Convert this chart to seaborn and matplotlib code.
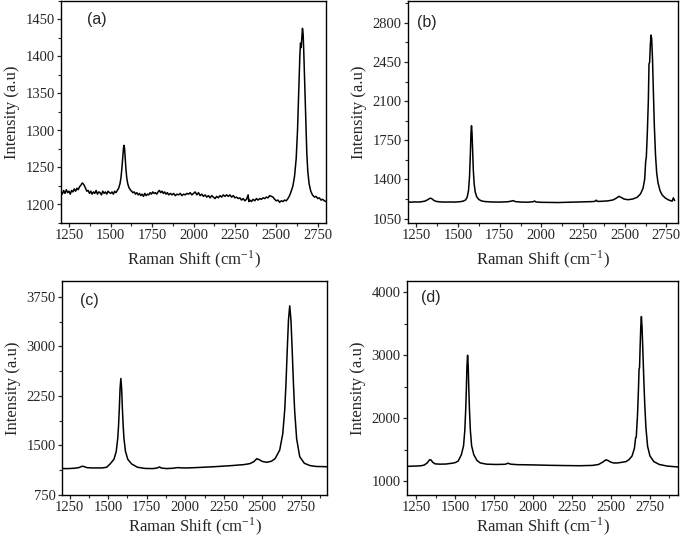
import matplotlib
matplotlib.use("Agg")
import matplotlib.pyplot as plt
import seaborn as sns
import pandas as pd
from matplotlib.ticker import MultipleLocator, AutoMinorLocator

# ---- data ----
shift_a = [1200, 1208, 1216, 1224, 1232, 1240, 1248, 1256, 1264, 1272, 1280, 1288, 1296, 1304,
           1312, 1320, 1328, 1334, 1340, 1348, 1356, 1364, 1372, 1380, 1388, 1396, 1404, 1412,
           1420, 1428, 1436, 1444, 1452, 1460, 1468, 1476, 1484, 1492, 1500, 1508, 1516, 1524,
           1532, 1540, 1548, 1556, 1562, 1568, 1574, 1578, 1581, 1584, 1588, 1592, 1597, 1603,
           1610, 1618, 1626, 1634, 1642, 1650, 1658, 1666, 1674, 1682, 1690, 1698, 1706, 1714,
           1722, 1730, 1738, 1746, 1754, 1762, 1770, 1778, 1786, 1794, 1802, 1810, 1818, 1826,
           1834, 1842, 1850, 1860, 1870, 1880, 1890, 1900, 1910, 1920, 1930, 1940, 1950, 1960,
           1970, 1980, 1990, 2000, 2010, 2020, 2030, 2040, 2050, 2060, 2070, 2080, 2090, 2100,
           2110, 2120, 2130, 2140, 2150, 2160, 2170, 2180, 2190, 2200, 2210, 2220, 2230, 2240,
           2250, 2260, 2270, 2280, 2290, 2300, 2310, 2320, 2330, 2334, 2340, 2350, 2360, 2370,
           2380, 2390, 2400, 2410, 2420, 2430, 2440, 2450, 2460, 2470, 2480, 2490, 2500, 2510,
           2520, 2530, 2540, 2550, 2560, 2570, 2580, 2590, 2600, 2610, 2620, 2628, 2636, 2642,
           2646, 2650, 2654, 2658, 2662, 2666, 2672, 2678, 2684, 2690, 2698, 2708, 2718, 2730,
           2740, 2750, 2760, 2770, 2780, 2790, 2800]
int_a = [1218, 1214, 1219, 1215, 1220, 1216, 1218, 1214, 1219, 1217, 1221, 1218, 1222, 1220,
         1224, 1226, 1229, 1228, 1226, 1222, 1218, 1219, 1215, 1218, 1214, 1217, 1215, 1219,
         1214, 1217, 1216, 1213, 1218, 1215, 1217, 1214, 1218, 1216, 1215, 1217, 1214, 1218,
         1216, 1219, 1222, 1228, 1236, 1250, 1268, 1278, 1280, 1275, 1262, 1248, 1236, 1228,
         1223, 1220, 1218, 1216, 1217, 1214, 1216, 1213, 1215, 1212, 1214, 1211, 1215, 1212,
         1214, 1213, 1216, 1214, 1217, 1215, 1216, 1214, 1217, 1219, 1216, 1218, 1215, 1217,
         1214, 1216, 1213, 1215, 1213, 1215, 1212, 1214, 1213, 1215, 1212, 1214, 1213, 1215,
         1214, 1216, 1213, 1215, 1217, 1213, 1216, 1212, 1214, 1211, 1213, 1210, 1212, 1209,
         1212, 1210, 1208, 1211, 1209, 1212, 1210, 1213, 1211, 1213, 1211, 1213, 1210, 1212,
         1209, 1210, 1208, 1209, 1206, 1208, 1205, 1207, 1213, 1204, 1206, 1204, 1207, 1205,
         1208, 1206, 1208, 1207, 1209, 1208, 1210, 1209, 1212, 1211, 1210, 1207, 1205, 1206,
         1203, 1205, 1204, 1206, 1205, 1208, 1212, 1218, 1225, 1238, 1262, 1300, 1355, 1400,
         1418, 1412, 1425, 1438, 1430, 1405, 1360, 1310, 1270, 1245, 1228, 1218, 1213, 1210,
         1211, 1208, 1209, 1206, 1207, 1205, 1204]

shift_b = [1200, 1220, 1240, 1260, 1280, 1300, 1315, 1328, 1336, 1345, 1355, 1370, 1390, 1420,
           1450, 1480, 1510, 1530, 1545, 1555, 1563, 1569, 1574, 1578, 1581, 1584, 1588, 1592,
           1597, 1603, 1612, 1625, 1640, 1660, 1700, 1750, 1800, 1820, 1830, 1845, 1880, 1920,
           1950, 1960, 1968, 2000, 2050, 2100, 2150, 2200, 2250, 2300, 2320, 2330, 2336, 2360,
           2400, 2430, 2450, 2465, 2478, 2495, 2520, 2550, 2575, 2595, 2610, 2620, 2626, 2630,
           2636, 2642, 2646, 2650, 2654, 2658, 2662, 2667, 2672, 2678, 2685, 2692, 2700, 2712,
           2725, 2745, 2765, 2785, 2792, 2800]
int_b = [1198, 1196, 1199, 1197, 1200, 1205, 1215, 1228, 1232, 1225, 1212, 1203, 1199, 1197,
         1198, 1197, 1200, 1205, 1215, 1240, 1300, 1420, 1620, 1820, 1880, 1820, 1650, 1480,
         1360, 1290, 1245, 1220, 1208, 1202, 1198, 1197, 1200, 1206, 1210, 1201, 1197, 1196,
         1200, 1206, 1198, 1195, 1194, 1193, 1195, 1197, 1199, 1201, 1203, 1214, 1203, 1204,
         1208, 1216, 1232, 1248, 1240, 1225, 1218, 1225, 1240, 1270, 1320, 1400, 1560, 1600,
         1820, 2100, 2430, 2450, 2600, 2690, 2660, 2480, 2200, 1880, 1620, 1460, 1370, 1300,
         1260, 1232, 1215, 1205, 1235, 1210]

shift_c = [1200, 1240, 1280, 1310, 1330, 1345, 1360, 1390, 1420, 1460, 1490, 1512, 1537, 1552,
           1562, 1567, 1572, 1577, 1582, 1587, 1592, 1597, 1602, 1612, 1627, 1652, 1690, 1740,
           1790, 1820, 1832, 1845, 1880, 1920, 1950, 1980, 2020, 2100, 2200, 2300, 2380, 2420,
           2445, 2465, 2480, 2500, 2530, 2560, 2583, 2613, 2633, 2646, 2654, 2662, 2670, 2678,
           2686, 2694, 2702, 2710, 2723, 2743, 2773, 2810, 2850, 2920]
int_c = [1150, 1150, 1155, 1165, 1185, 1180, 1165, 1160, 1160, 1160, 1170, 1220, 1290, 1410,
         1610, 1800, 2055, 2365, 2514, 2365, 2055, 1800, 1610, 1410, 1290, 1220, 1170, 1152,
         1150, 1160, 1175, 1158, 1150, 1155, 1165, 1160, 1160, 1168, 1180, 1195, 1210, 1225,
         1255, 1300, 1285, 1258, 1245, 1262, 1300, 1430, 1680, 2050, 2450, 2950, 3400, 3614,
         3400, 2950, 2450, 2030, 1600, 1330, 1230, 1195, 1182, 1178]

shift_d = [1190, 1220, 1250, 1280, 1300, 1320, 1335, 1345, 1355, 1370, 1400, 1440, 1480, 1500,
           1519, 1539, 1553, 1561, 1567, 1571, 1575, 1579, 1583, 1587, 1591, 1597, 1605, 1619,
           1639, 1660, 1700, 1760, 1820, 1840, 1855, 1900, 2000, 2100, 2200, 2300, 2380, 2420,
           2445, 2468, 2482, 2500, 2520, 2545, 2570, 2595, 2615, 2635, 2650, 2658, 2662, 2670,
           2676, 2680, 2683, 2687, 2691, 2695, 2699, 2704, 2710, 2716, 2724, 2735, 2750, 2775,
           2810, 2860, 2930]
int_d = [1235, 1238, 1240, 1245, 1255, 1290, 1340, 1335, 1300, 1275, 1270, 1272, 1285, 1295,
         1320, 1420, 1560, 1800, 2140, 2450, 2830, 3000, 2830, 2450, 2140, 1800, 1560, 1420,
         1330, 1290, 1270, 1265, 1268, 1285, 1270, 1262, 1258, 1252, 1248, 1245, 1250, 1265,
         1300, 1340, 1325, 1300, 1288, 1290, 1300, 1310, 1340, 1400, 1520, 1690, 1700, 2050,
         2450, 2780, 2800, 3150, 3450, 3615, 3450, 3100, 2650, 2250, 1850, 1550, 1400, 1310,
         1265, 1240, 1225]

panel_tags = ["(a)", "(b)", "(c)", "(d)"]
x_limits = [(1200, 2800), (1200, 2820), (1200, 2920), (1190, 2930)]
y_limits = [(1175, 1475), (1010, 2995), (750, 3990), (780, 4180)]
y_steps = [50, 350, 750, 1000]
tag_pos = [(0.10, 0.915), (0.035, 0.905), (0.068, 0.91), (0.05, 0.925)]
xlabel_pad = [4, 4, 0.5, 0.5]

sns.set_style("ticks")
plt.rcParams["font.family"] = ["Liberation Serif", "DejaVu Serif"]
plt.rcParams["mathtext.fontset"] = "stix"

fig = plt.figure(figsize=(6.81, 5.39), dpi=100)
boxes = [
    [61 / 681, 316 / 539, 265 / 681, 222 / 539],
    [408 / 681, 316 / 539, 270 / 681, 222 / 539],
    [62 / 681, 44 / 539, 265 / 681, 214 / 539],
    [407 / 681, 44 / 539, 271 / 681, 214 / 539],
]
spectra = [(shift_a, int_a), (shift_b, int_b), (shift_c, int_c), (shift_d, int_d)]

for i, (xs, ys) in enumerate(spectra):
    ax = fig.add_axes(boxes[i])
    df = pd.DataFrame({"shift": xs, "intensity": ys})
    sns.lineplot(data=df, x="shift", y="intensity", ax=ax, color="black",
                 linewidth=1.1, estimator=None, sort=False)
    ax.set_xlim(*x_limits[i])
    ax.set_ylim(*y_limits[i])
    ax.xaxis.set_major_locator(MultipleLocator(250))
    ax.yaxis.set_major_locator(MultipleLocator(y_steps[i]))
    ax.xaxis.set_minor_locator(AutoMinorLocator(2))
    ax.yaxis.set_minor_locator(AutoMinorLocator(2))
    ax.tick_params(which="major", direction="out", length=3, width=0.9, pad=1.5,
                   labelsize=10.5, top=False, right=False)
    ax.tick_params(which="minor", direction="out", length=2, width=0.8,
                   top=False, right=False)
    for sp in ax.spines.values():
        sp.set_visible(True)
        sp.set_linewidth(1.0)
        sp.set_color("black")
    ax.set_xlabel("Raman Shift (cm$^{\\mathregular{-1}}$)", fontsize=12,
                  labelpad=xlabel_pad[i])
    ax.set_ylabel("Intensity (a.u)", fontsize=12, labelpad=4)
    ax.text(tag_pos[i][0], tag_pos[i][1], panel_tags[i], transform=ax.transAxes,
            ha="left", va="center", fontsize=11.5, family=["Liberation Sans", "DejaVu Sans"])

fig.savefig("out.png", dpi=100)
